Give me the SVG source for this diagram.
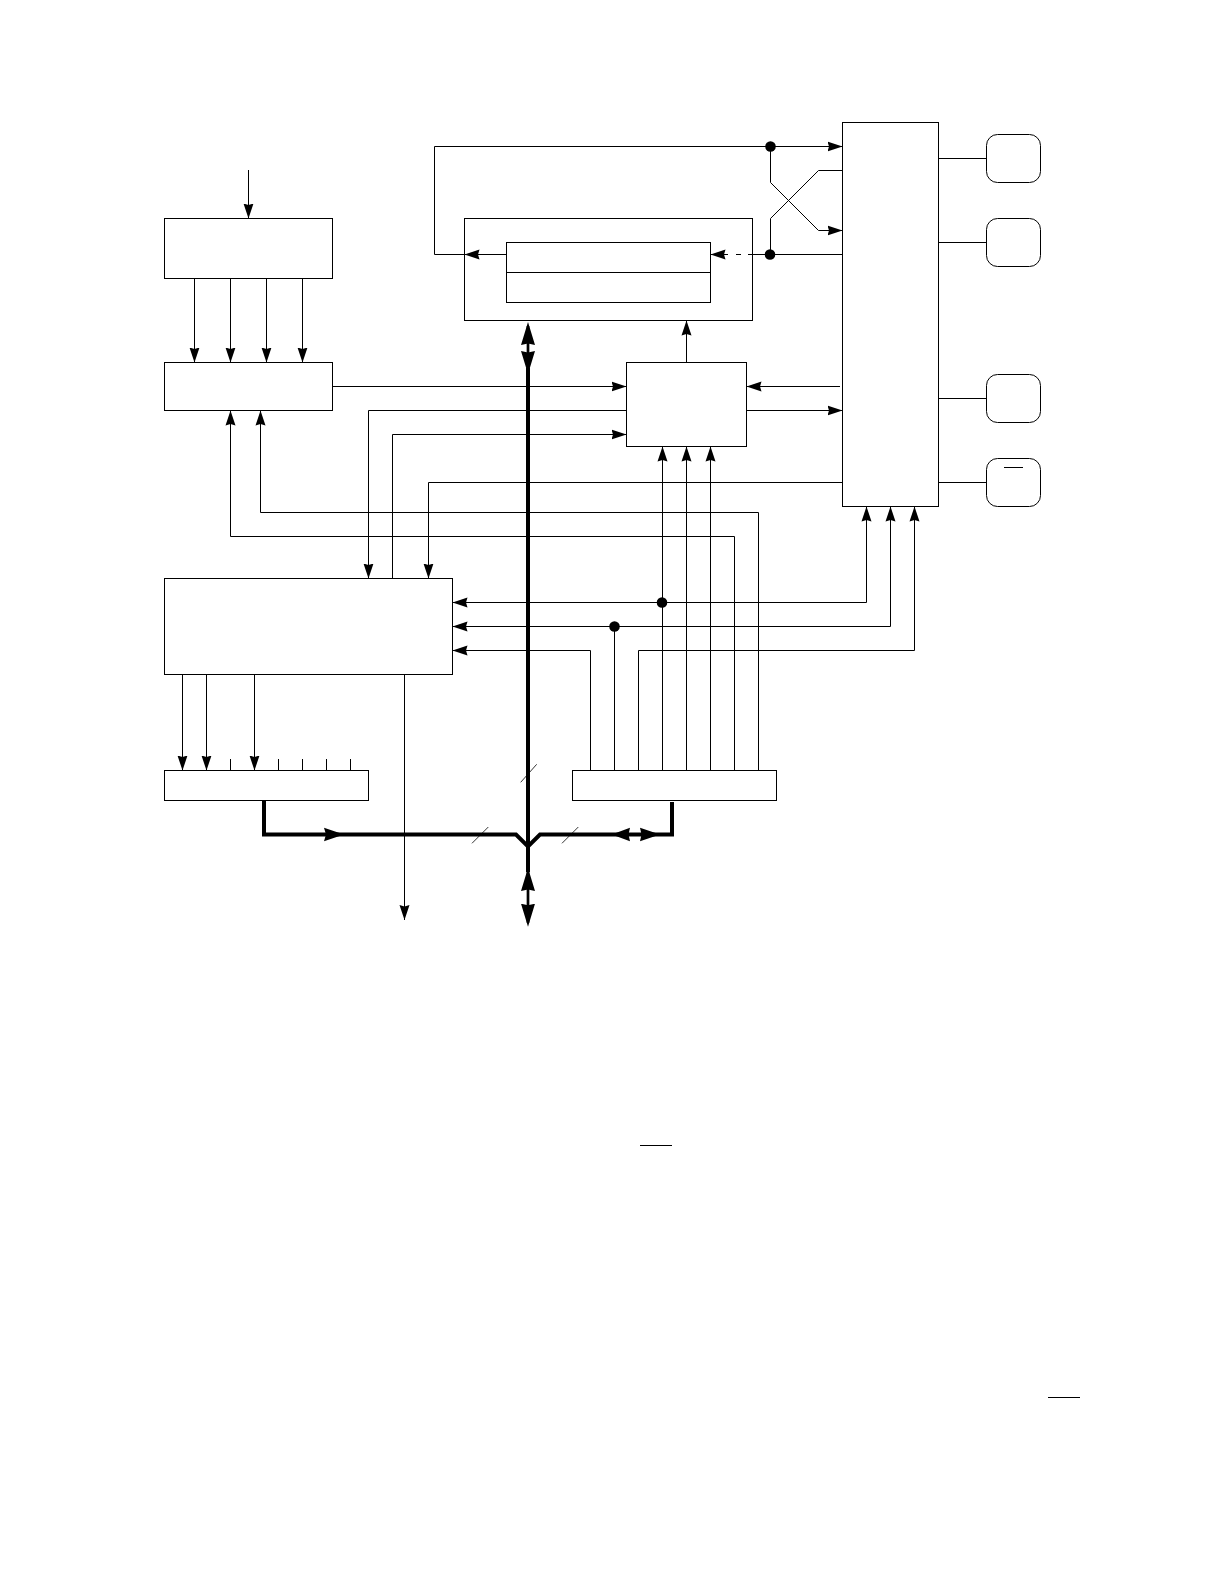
<svg xmlns="http://www.w3.org/2000/svg" width="1224" height="1584" viewBox="0 0 1224 1584">
<style>
.box{fill:#fff;stroke:#000;stroke-width:1}
.w{fill:none;stroke:#000;stroke-width:1;stroke-linejoin:miter}
.a{marker-end:url(#ah)}
.bus{fill:none;stroke:#000;stroke-width:4;stroke-linejoin:miter}
.thin{fill:none;stroke:#000;stroke-width:2.7}
.dbl{fill:none;stroke:#000;stroke-width:2.7;marker-start:url(#bh);marker-end:url(#bh)}
.head{fill:#000;stroke:none}
.dot{fill:#000;stroke:none}
.slash{fill:none;stroke:#000;stroke-width:.8}
</style>
<defs>
<marker id="ah" markerUnits="userSpaceOnUse" markerWidth="16" markerHeight="11" refX="15" refY="5.5" orient="auto-start-reverse" viewBox="0 0 16 11"><path d="M0,.5L15,5.5L0,10.5L1.5,5.5Z" fill="#000"/></marker>
<marker id="bh" markerUnits="userSpaceOnUse" markerWidth="24" markerHeight="15" refX="19" refY="7.5" orient="auto-start-reverse" viewBox="0 0 24 15"><path d="M0,.5L23,7.5L0,14.5L1.5,7.5Z" fill="#000"/></marker>
</defs>
<rect width="1224" height="1584" fill="#fff"/>
<g id="connectors">
<path class="w a" d="M248.5 170V218.5"/>
<path class="w a" d="M194.5 278.5V362.5"/>
<path class="w a" d="M230.5 278.5V362.5"/>
<path class="w a" d="M266.5 278.5V362.5"/>
<path class="w a" d="M302.5 278.5V362.5"/>
<path class="w a" d="M332.5 386.5H626.5"/>
<path class="w a" d="M626.5 410.5H368.5V578.5"/>
<path class="w a" d="M392.5 578.5V434.5H626.5"/>
<path class="w a" d="M842.5 482.5H428.5V578.5"/>
<path class="w a" d="M758.5 770.5V512.5H260.5V410.5"/>
<path class="w a" d="M734.5 770.5V536.5H230.5V410.5"/>
<path class="w a" d="M506.5 254.5H464.5"/>
<path class="w a" d="M464.5 254.5H434.5V146.5H842.5"/>
<path class="w a" d="M770.5 146.5V182.5L818.5 230.5H842.5"/>
<path class="w" d="M842.5 170.5H818.5L770.5 218.5V254.5"/>
<path class="w" d="M842.5 254.5H748"/>
<path class="w" d="M741 254.5H736"/>
<path class="w a" d="M728 254.5H710.5"/>
<path class="w a" d="M686.5 362.5V320.5"/>
<path class="w a" d="M840 386.5H746.5"/>
<path class="w a" d="M746.5 410.5H842.5"/>
<path class="w a" d="M662.5 770.5V446.5"/>
<path class="w a" d="M686.5 770.5V446.5"/>
<path class="w a" d="M710.5 770.5V446.5"/>
<path class="w a" d="M662.5 602.5H452.5"/>
<path class="w a" d="M662.5 602.5H866.5V506.5"/>
<path class="w a" d="M614.5 770.5V626.5H452.5"/>
<path class="w a" d="M614.5 626.5H890.5V506.5"/>
<path class="w a" d="M590.5 770.5V650.5H452.5"/>
<path class="w a" d="M638.5 770.5V650.5H914.5V506.5"/>
<path class="w a" d="M182.5 674.5V770.5"/>
<path class="w a" d="M206.5 674.5V770.5"/>
<path class="w a" d="M254.5 674.5V770.5"/>
<path class="w a" d="M404.5 674.5V920"/>
<path class="w" d="M230.5 759V770.5M278.5 759V770.5M302.5 759V770.5M326.5 759V770.5M350.5 759V770.5"/>
<path class="w" d="M938.5 158.5H986.5M938.5 242.5H986.5M938.5 398.5H986.5M938.5 482.5H986.5"/>
<path class="bus" d="M528 368V872"/>
<path class="bus" d="M264 800.5V834.5H516L528 846.5L540 834.5H672V802"/>
<path class="dbl" d="M528 326V370"/>
<path class="dbl" d="M528 872V922.7"/>
<path class="head" d="M324 827.8L344 834.5L324 841.2L326 834.5Z"/>
<path class="head" d="M630 827.8L611.7 834.5L630 841.2L628.5 834.5Z"/>
<path class="head" d="M640 827.8L660 834.5L640 841.2L641.5 834.5Z"/>
<path class="slash" d="M520.7 782.3L536.7 764.3M472 843.3L488.3 827M562 843.3L578.3 827"/>
<circle class="dot" cx="770.5" cy="146.5" r="5.3"/>
<circle class="dot" cx="770" cy="254.5" r="5.3"/>
<circle class="dot" cx="662" cy="602.5" r="5.3"/>
<circle class="dot" cx="614.5" cy="626.5" r="5.3"/>
</g>
<g id="node-input"><rect class="box" x="164.5" y="218.5" width="168" height="60"/></g>
<g id="node-latch"><rect class="box" x="164.5" y="362.5" width="168" height="48"/></g>
<g id="node-memory"><rect class="box" x="464.5" y="218.5" width="288" height="102" style="fill:none"/></g>
<g id="node-register-a"><rect class="box" x="506.5" y="242.5" width="204" height="30"/></g>
<g id="node-register-b"><rect class="box" x="506.5" y="272.5" width="204" height="30"/></g>
<g id="node-control"><rect class="box" x="626.5" y="362.5" width="120" height="84"/></g>
<g id="node-timing"><rect class="box" x="842.5" y="122.5" width="96" height="384"/></g>
<g id="node-pin-1"><rect class="box" x="986.5" y="134.5" width="54" height="48" rx="11"/></g>
<g id="node-pin-2"><rect class="box" x="986.5" y="218.5" width="54" height="48" rx="11"/></g>
<g id="node-pin-3"><rect class="box" x="986.5" y="374.5" width="54" height="48" rx="11"/></g>
<g id="node-pin-4"><rect class="box" x="986.5" y="458.5" width="54" height="48" rx="11"/><path class="w" d="M1004 467.5H1023"/></g>
<g id="node-decoder"><rect class="box" x="164.5" y="578.5" width="288" height="96"/></g>
<g id="node-output-buffer"><rect class="box" x="164.5" y="770.5" width="204" height="30"/></g>
<g id="node-input-buffer"><rect class="box" x="572.5" y="770.5" width="204" height="30"/></g>
<path class="w" d="M640 1145.5H672M1048 1397.5H1080"/>
</svg>
